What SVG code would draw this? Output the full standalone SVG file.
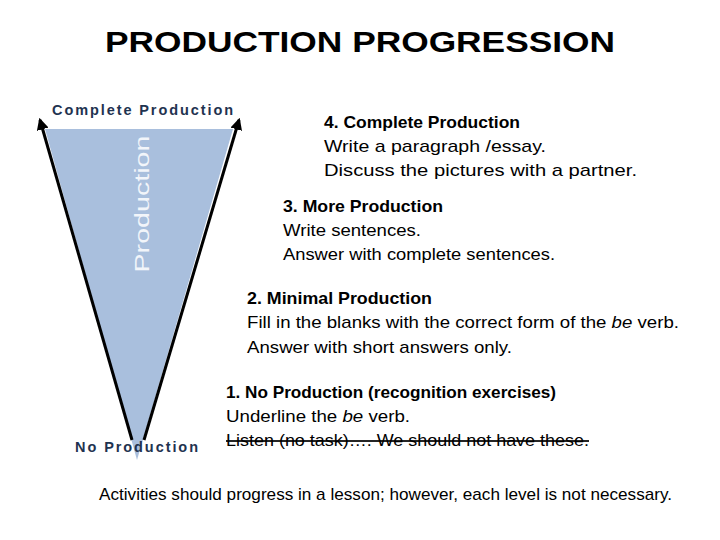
<svg xmlns="http://www.w3.org/2000/svg" width="720" height="540" viewBox="0 0 720 540">
<defs>
<marker id="ah" viewBox="0 0 10 10" refX="8" refY="5" markerWidth="4" markerHeight="4" orient="auto"><path d="M0,0 L10,5 L0,10 z" fill="#000"/></marker>
<style>
.t{font-family:"Liberation Sans",Arial,sans-serif;font-size:17px;fill:#000}
.b{font-weight:bold}
.lab{font-family:"Liberation Sans",Arial,sans-serif;font-weight:bold;font-size:14.5px;fill:#1F3350}
</style>
</defs>
<rect width="720" height="540" fill="#fff"/>
<text x="360" y="52" text-anchor="middle" font-family="Liberation Sans,Arial,sans-serif" font-weight="bold" font-size="30" textLength="510" lengthAdjust="spacingAndGlyphs">PRODUCTION PROGRESSION</text>
<g id="triangle">
<polygon points="45,129 233,129 137,460" fill="#A9BFDD"/>
<text transform="translate(149,204) rotate(-90)" text-anchor="middle" font-family="Liberation Sans,Arial,sans-serif" font-size="21" fill="#F2F5FA" textLength="137" lengthAdjust="spacingAndGlyphs">Production</text>
</g>
<g id="connectors" stroke="#000" stroke-width="3" fill="none">
<line x1="132" y1="440" x2="40" y2="120" marker-end="url(#ah)"/>
<line x1="144" y1="440" x2="239" y2="120" marker-end="url(#ah)"/>
</g>
<g id="label-top"><text class="lab" x="52" y="115" textLength="181" lengthAdjust="spacing">Complete Production</text></g>
<g id="label-bottom"><text class="lab" x="75" y="452" textLength="123" lengthAdjust="spacing">No Production</text></g>
<g id="level4">
<text class="t b" x="324" y="128" textLength="196" lengthAdjust="spacingAndGlyphs">4. Complete Production</text>
<text class="t" x="324" y="152" textLength="222" lengthAdjust="spacingAndGlyphs">Write a paragraph /essay.</text>
<text class="t" x="324" y="176" textLength="313" lengthAdjust="spacingAndGlyphs">Discuss the pictures with a partner.</text>
</g>
<g id="level3">
<text class="t b" x="283" y="212" textLength="160" lengthAdjust="spacingAndGlyphs">3. More Production</text>
<text class="t" x="283" y="236" textLength="138" lengthAdjust="spacingAndGlyphs">Write sentences.</text>
<text class="t" x="283" y="260" textLength="272" lengthAdjust="spacingAndGlyphs">Answer with complete sentences.</text>
</g>
<g id="level2">
<text class="t b" x="247" y="304" textLength="185" lengthAdjust="spacingAndGlyphs">2. Minimal Production</text>
<text class="t" x="247" y="328" textLength="432" lengthAdjust="spacingAndGlyphs">Fill in the blanks with the correct form of the <tspan font-style="italic">be</tspan> verb.</text>
<text class="t" x="247" y="353" textLength="265" lengthAdjust="spacingAndGlyphs">Answer with short answers only.</text>
</g>
<g id="level1">
<text class="t b" x="226" y="398" textLength="330" lengthAdjust="spacingAndGlyphs">1. No Production (recognition exercises)</text>
<text class="t" x="226" y="422" textLength="184" lengthAdjust="spacingAndGlyphs">Underline the <tspan font-style="italic">be</tspan> verb.</text>
<text class="t" x="226" y="446" textLength="363" lengthAdjust="spacingAndGlyphs" text-decoration="line-through">Listen (no task)…. We should not have these.</text>
</g>
<g id="footer">
<text class="t" x="99" y="500" textLength="573" lengthAdjust="spacingAndGlyphs">Activities should progress in a lesson; however, each level is not necessary.</text>
</g>
</svg>
